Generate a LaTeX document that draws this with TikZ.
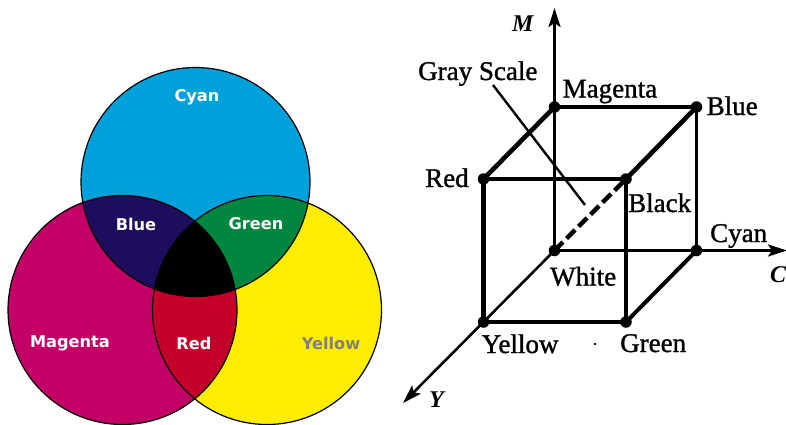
\documentclass[tikz,border=0pt]{standalone}
\usepackage{fontspec}
\setmainfont{Liberation Serif}
\newfontfamily\vennfont{DejaVu Sans}
\newfontfamily\cubefont{Liberation Serif}[FakeBold=1.2]
\usetikzlibrary{arrows.meta}
\definecolor{cyanC}{RGB}{0,160,218}
\definecolor{magC}{RGB}{194,0,102}
\definecolor{yelC}{RGB}{255,237,0}
\definecolor{blueC}{RGB}{30,12,92}
\definecolor{greenC}{RGB}{0,134,62}
\definecolor{redC}{RGB}{196,0,42}
\definecolor{grayT}{RGB}{128,128,128}
\tikzset{
  vlabel/.style={font=\vennfont\bfseries\fontsize{16.2}{17}\selectfont, text=white, inner sep=0pt},
  clabel/.style={font=\cubefont\fontsize{27}{28}\selectfont, anchor=base west, inner sep=0pt},
  alabel/.style={font=\bfseries\itshape\fontsize{24}{25}\selectfont, anchor=base west, inner sep=0pt},
  edge/.style={line width=4pt},
  axis/.style={line width=2.6pt, -{Stealth[length=19pt,width=12pt,inset=4pt]}},
  vdot/.style={circle, fill=black, inner sep=0pt, minimum size=11.5pt},
}
\begin{document}
\begin{tikzpicture}[x=1pt,y=-1pt]
\useasboundingbox (0,0) rectangle (786,424);
\fill[white] (0,0) rectangle (786,424);
% ---------- Venn diagram ----------
\def\R{114.5pt}
\coordinate (cC) at (195.5,182);
\coordinate (cM) at (122.5,310);
\coordinate (cY) at (267,310);
\fill[cyanC] (cC) circle (\R);
\fill[magC] (cM) circle (\R);
\fill[yelC] (cY) circle (\R);
\begin{scope}
  \clip (cC) circle (\R);
  \fill[blueC] (cM) circle (\R);
  \fill[greenC] (cY) circle (\R);
\end{scope}
\begin{scope}
  \clip (cM) circle (\R);
  \fill[redC] (cY) circle (\R);
\end{scope}
\begin{scope}
  \clip (cC) circle (\R);
  \clip (cM) circle (\R);
  \fill[black] (cY) circle (\R);
\end{scope}
\draw[line width=1.2pt] (cC) circle (\R) (cM) circle (\R) (cY) circle (\R);
\node[vlabel] (tCyan) at (197,97) {Cyan};
\node[vlabel] (tBlue) at (136,224) {Blue};
\node[vlabel] (tGreen) at (256,224) {Green};
\node[vlabel] (tMag) at (70,343) {Magenta};
\node[vlabel] (tRed) at (194,343) {Red};
\node[vlabel, text=grayT] (tYel) at (331,343) {Yellow};
% ---------- Cube ----------
\coordinate (W) at (554.5,250.5);
\coordinate (Mg) at (554.5,107);
\coordinate (Cy) at (696.5,250.5);
\coordinate (Ye) at (483.5,322);
\coordinate (Rd) at (483.5,179);
\coordinate (Gr) at (626,322);
\coordinate (Bl) at (696.5,107);
\coordinate (Bk) at (626,179);
\coordinate (Mtip) at (554.5,8);
\coordinate (Ctip) at (787,250.5);
\coordinate (Ytip) at (403,403);
\coordinate (gsA) at (493,85);
\coordinate (gsB) at (585,205);
% axes
\draw[axis] (W) -- (Mtip);
\draw[axis] (W) -- (Ctip);
\draw[axis] (W) -- (Ytip);
% edges
\draw[edge] (Mg) -- (Bl);
\draw[edge, line width=4.6pt] (Mg) -- (Rd);
\draw[edge, line width=4.6pt] (Bl) -- (Bk);
\draw[edge, line width=3.4pt] (Bl) -- (Cy);
\draw[edge] (Rd) -- (Bk);
\draw[edge, line width=5.2pt] (Rd) -- (Ye);
\draw[edge, line width=4.6pt] (Bk) -- (Gr);
\draw[edge] (Ye) -- (Gr);
\draw[edge] (Gr) -- (Cy);
\draw[line width=4.4pt, dash pattern=on 12pt off 5pt] (W) -- (Bk);
\draw[line width=2.4pt] (gsA) -- (gsB);
% dots
\foreach \p in {W,Mg,Cy,Ye,Rd,Gr,Bl,Bk} \node[vdot] at (\p) {};
\fill (595,344) circle (1.4pt);
% labels
\node[clabel] (lGray) at (418,80) {Gray Scale};
\node[clabel] (lMag) at (562.5,97.5) {Magenta};
\node[clabel] (lBlue) at (706.5,115) {Blue};
\node[clabel] (lRed) at (425,187) {Red};
\node[clabel] (lBlack) at (628,212) {Black};
\node[clabel] (lCyan) at (710,242) {Cyan};
\node[clabel] (lWhite) at (550,285.5) {White};
\node[clabel] (lYellow) at (481.5,353) {Yellow};
\node[clabel] (lGreen) at (620,352) {Green};
\node[alabel] (lM) at (512,31.5) {M};
\node[alabel] (lC) at (770,282) {C};
\node[alabel] (lY) at (429,407) {Y};
\end{tikzpicture}
\end{document}
